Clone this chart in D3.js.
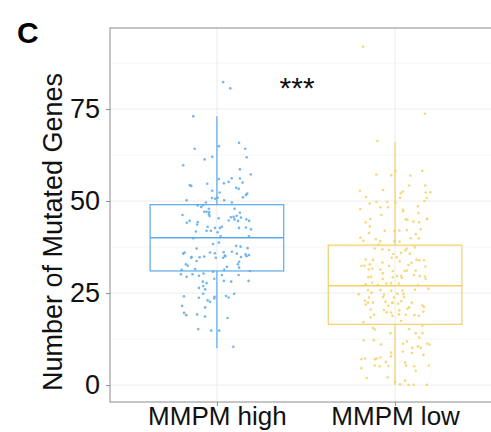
<!DOCTYPE html>
<html>
<head>
<meta charset="utf-8">
<script src="https://cdn.jsdelivr.net/npm/d3@7"></script>
<style>
  body { margin: 0; background: #fff; }
  text { font-family: "Liberation Sans", Arial, sans-serif; }
</style>
</head>
<body>
<div id="canvas"></div>
<script>
// groups and box statistics
const groups = ["MMPM high", "MMPM low"];
const groupColours = ["#5aa9ea", "#f5d163"];
const q1 = [31, 16.5];
const median = [40, 27];
const q3 = [49, 38];
const whiskerLow = [10, 0];
const whiskerHigh = [73, 66];

const yTicks = [0, 25, 50, 75];
const yMinor = [12.5, 37.5, 62.5, 87.5];

// jittered points: [offset from group centre, number of mutated genes]
const highPoints = [
  [0.035, 82.3], [0.075, 80.6], [-0.133, 73.0], [0.011, 64.9], [0.124, 65.8], [0.159, 64.2],
  [-0.125, 64.2], [0.167, 61.9], [-0.069, 61.3], [-0.026, 62.0], [-0.189, 59.7], [0.129, 58.6],
  [0.19, 57.2], [0.011, 56.0], [0.083, 56.2], [0.066, 55.2], [0.039, 54.8], [0.129, 56.1],
  [0.144, 55.0], [-0.054, 54.7], [-0.152, 54.3], [-0.144, 54.1], [0.108, 53.6], [0.122, 53.3],
  [-0.026, 52.8], [0.015, 52.3], [0.17, 52.0], [0.163, 51.6], [0.146, 51.0], [-0.028, 50.8],
  [0.004, 50.9], [-0.01, 50.6], [0.041, 50.2], [-0.17, 50.2], [-0.062, 49.6], [0.084, 49.6],
  [-0.077, 48.9], [-0.108, 48.8], [-0.088, 48.4], [-0.045, 47.9], [0.099, 47.9], [-0.071, 47.1],
  [-0.058, 47.1], [-0.043, 47.0], [0.129, 46.8], [0.111, 46.0], [-0.193, 46.2], [-0.045, 46.4],
  [-0.041, 45.9], [0.079, 45.6], [0.094, 45.7], [0.135, 45.5], [0.165, 45.0], [0.01, 45.3],
  [-0.153, 44.6], [-0.169, 44.1], [-0.107, 44.3], [0.099, 45.0], [0.066, 44.7], [0.181, 44.6],
  [0.118, 44.6], [-0.111, 43.6], [0.028, 43.0], [0.017, 42.7], [-0.011, 42.7], [-0.052, 43.0],
  [0.124, 42.7], [0.163, 42.8], [0.191, 42.3], [-0.118, 41.7], [-0.058, 41.9], [-0.034, 41.9],
  [0.004, 41.5], [-0.133, 39.9], [0.021, 40.4], [0.18, 40.4], [-0.022, 38.3], [0.011, 38.7],
  [-0.114, 37.1], [0.108, 37.8], [0.133, 37.6], [0.172, 37.2], [-0.181, 36.0], [-0.189, 35.7],
  [-0.142, 34.8], [-0.071, 34.9], [-0.039, 36.0], [-0.011, 35.8], [0.038, 36.1], [0.084, 36.2],
  [0.112, 35.7], [0.161, 35.5], [0.18, 35.3], [0.135, 34.8], [-0.097, 34.7], [0.045, 35.2],
  [-0.174, 32.8], [-0.144, 34.6], [-0.114, 33.7], [-0.006, 34.6], [0.035, 34.6], [0.047, 35.0],
  [0.125, 33.5], [0.167, 35.0], [-0.163, 32.4], [-0.122, 31.5], [-0.198, 31.3], [0.041, 31.3],
  [0.056, 32.1], [0.118, 32.8], [0.125, 31.9], [0.185, 31.0], [-0.202, 30.1], [-0.17, 29.4],
  [-0.137, 30.1], [-0.101, 29.7], [-0.075, 30.3], [-0.021, 30.8], [0.028, 29.9], [0.122, 29.9],
  [-0.015, 28.9], [-0.079, 28.1], [-0.058, 27.7], [0.039, 28.3], [0.08, 28.1], [0.178, 28.3],
  [-0.077, 26.9], [-0.101, 26.4], [-0.066, 26.0], [-0.077, 24.8], [0.097, 24.8], [-0.185, 24.1],
  [-0.101, 23.7], [-0.013, 24.0], [-0.015, 23.5], [0.051, 24.2], [0.066, 23.8], [-0.052, 23.0],
  [-0.039, 22.6], [-0.195, 21.5], [-0.066, 21.1], [-0.184, 19.6], [-0.172, 19.0], [-0.111, 19.2],
  [-0.067, 18.6], [0.06, 18.2], [-0.105, 15.2], [-0.032, 14.8], [0.013, 14.8], [0.092, 10.4]
];

const lowPoints = [
  [-0.18, 91.9], [0.167, 73.7], [-0.099, 66.3], [-0.105, 57.2], [-0.022, 57.0], [0.002, 58.2],
  [0.086, 56.9], [0.153, 58.2], [0.079, 54.2], [0.169, 54.2], [-0.197, 52.8], [-0.067, 53.0],
  [0.043, 52.6], [0.032, 52.1], [0.172, 52.3], [0.198, 52.4], [-0.163, 51.1], [0.028, 50.9],
  [0.178, 50.8], [0.165, 50.0], [-0.105, 49.8], [-0.045, 49.8], [0.002, 49.5], [-0.142, 49.3],
  [0.129, 48.6], [-0.195, 47.8], [-0.083, 48.3], [-0.039, 48.3], [0.045, 47.6], [0.045, 47.2],
  [0.131, 46.7], [-0.077, 46.2], [-0.139, 45.1], [0.06, 45.0], [0.178, 45.1], [-0.165, 44.2],
  [0.069, 44.9], [0.103, 44.4], [0.135, 44.2], [0.18, 45.1], [-0.142, 43.1], [-0.058, 41.9],
  [-0.004, 41.8], [0.024, 42.0], [0.066, 42.1], [0.144, 42.3], [-0.146, 41.3], [0.116, 41.0],
  [-0.195, 40.0], [-0.108, 39.6], [-0.178, 39.2], [-0.083, 39.1], [-0.004, 39.1], [0.088, 39.9],
  [0.133, 39.9], [0.026, 38.9], [-0.094, 38.2], [-0.114, 37.1], [-0.071, 36.9], [-0.034, 36.7],
  [0.066, 37.1], [0.111, 37.4], [0.058, 36.6], [-0.01, 35.6], [0.034, 35.9], [0.083, 35.7],
  [-0.019, 34.6], [0.01, 34.7], [-0.165, 34.1], [-0.124, 34.0], [0.12, 34.0], [0.135, 33.9],
  [0.163, 33.9], [-0.071, 33.3], [0.026, 33.6], [-0.189, 32.4], [-0.172, 32.4], [-0.142, 32.8],
  [-0.034, 32.4], [0.075, 32.6], [0.17, 32.2], [0.092, 33.2], [-0.148, 31.4], [-0.128, 31.6],
  [-0.083, 31.4], [0.054, 31.0], [0.066, 31.1], [-0.013, 31.0], [0.116, 31.1], [-0.069, 30.4],
  [0.011, 29.6], [0.034, 29.6], [0.139, 29.6], [0.167, 29.5], [0.105, 29.9], [-0.15, 29.3],
  [-0.135, 29.4], [-0.013, 29.3], [0.038, 29.1], [0.172, 28.9], [-0.069, 28.8], [-0.128, 27.8],
  [-0.165, 27.4], [-0.022, 27.7], [0.021, 27.6], [-0.049, 27.6], [-0.097, 27.2], [0.128, 27.1],
  [-0.152, 25.8], [-0.022, 25.6], [0.041, 25.7], [0.111, 25.9], [0.187, 26.2], [-0.083, 25.8],
  [-0.204, 24.7], [-0.133, 25.1], [0.013, 24.8], [0.047, 24.7], [-0.146, 23.8], [-0.062, 24.6],
  [-0.067, 23.9], [-0.006, 23.8], [0.051, 23.9], [-0.152, 22.4], [-0.124, 22.4], [-0.015, 22.4],
  [0.094, 22.4], [-0.054, 22.6], [-0.169, 22.9], [-0.165, 21.9], [-0.038, 21.5], [-0.015, 22.3],
  [0.017, 22.1], [0.034, 22.8], [0.069, 20.7], [0.079, 21.1], [0.153, 21.6], [0.163, 21.2],
  [-0.137, 20.5], [-0.063, 20.4], [-0.047, 19.8], [-0.022, 19.7], [0.024, 20.3], [-0.118, 19.1],
  [-0.015, 18.8], [0.022, 19.2], [0.06, 19.1], [0.108, 19.0], [0.133, 18.8], [0.159, 19.9],
  [-0.137, 18.4], [-0.178, 17.1], [0.034, 17.4], [0.153, 16.1], [-0.124, 15.5], [-0.114, 15.1],
  [-0.026, 14.1], [0.079, 15.2], [0.116, 14.1], [0.153, 14.1], [0.135, 12.9], [-0.176, 12.1],
  [-0.12, 12.2], [-0.08, 11.0], [0.045, 11.2], [0.066, 11.9], [0.181, 11.3], [0.193, 11.0],
  [0.128, 10.5], [0.144, 10.1], [0.096, 10.1], [0.043, 9.1], [0.159, 8.2], [-0.022, 8.8],
  [0.094, 8.7], [-0.189, 7.0], [-0.169, 7.2], [-0.114, 7.0], [-0.103, 7.2], [-0.083, 7.5],
  [-0.052, 6.3], [-0.024, 7.8], [0.056, 6.1], [0.062, 5.3], [-0.114, 5.3], [-0.086, 5.1],
  [-0.039, 5.2], [0.107, 5.1], [0.189, 5.3], [-0.189, 4.6], [0.116, 3.9], [-0.159, 1.9],
  [-0.041, 2.1], [0.056, 1.2], [0.028, 0.2], [0.077, 0.1], [0.105, 0.1], [0.178, 0.1], [0, 0.8]
];
const pointsByGroup = [highPoints, lowPoints];

// significance label: position in data units
const sigLabel = { x: 1.45, y: 78, text: "***" };

// canvas
const width = 491, height = 432;
const panel = { left: 110, right: 502, top: 28, bottom: 402 };

const svg = d3.select("#canvas")
  .append("svg")
  .attr("width", width)
  .attr("height", height);

// scales
const x = d3.scaleLinear()
  .domain([0.4, groups.length + 0.6])
  .range([panel.left, panel.right]);

const y = d3.scaleLinear()
  .domain([-4.6, 97])
  .range([panel.bottom, panel.top]);

// grid
svg.append("g")
  .selectAll("line")
  .data(yMinor)
  .join("line")
  .attr("x1", panel.left).attr("x2", panel.right)
  .attr("y1", d => y(d)).attr("y2", d => y(d))
  .attr("stroke", "#f5f5f5");

svg.append("g")
  .selectAll("line")
  .data(yTicks)
  .join("line")
  .attr("x1", panel.left).attr("x2", panel.right)
  .attr("y1", d => y(d)).attr("y2", d => y(d))
  .attr("stroke", "#ececec");

svg.append("g")
  .selectAll("line")
  .data(groups)
  .join("line")
  .attr("x1", (d, i) => x(i + 1)).attr("x2", (d, i) => x(i + 1))
  .attr("y1", panel.top).attr("y2", panel.bottom)
  .attr("stroke", "#ececec");

// boxes
const boxWidth = 0.75;
const box = svg.append("g")
  .selectAll("g")
  .data(groups)
  .join("g")
  .attr("stroke", (d, i) => groupColours[i])
  .attr("stroke-width", 1.2)
  .attr("fill", "none");

box.append("line")
  .attr("x1", (d, i) => x(i + 1)).attr("x2", (d, i) => x(i + 1))
  .attr("y1", (d, i) => y(whiskerHigh[i])).attr("y2", (d, i) => y(q3[i]));

box.append("line")
  .attr("x1", (d, i) => x(i + 1)).attr("x2", (d, i) => x(i + 1))
  .attr("y1", (d, i) => y(q1[i])).attr("y2", (d, i) => y(whiskerLow[i]));

box.append("rect")
  .attr("x", (d, i) => x(i + 1 - boxWidth / 2))
  .attr("width", x(1 + boxWidth / 2) - x(1 - boxWidth / 2))
  .attr("y", (d, i) => y(q3[i]))
  .attr("height", (d, i) => y(q1[i]) - y(q3[i]));

box.append("line")
  .attr("x1", (d, i) => x(i + 1 - boxWidth / 2)).attr("x2", (d, i) => x(i + 1 + boxWidth / 2))
  .attr("y1", (d, i) => y(median[i])).attr("y2", (d, i) => y(median[i]))
  .attr("stroke-width", 1.6);

// jittered points
pointsByGroup.forEach((pts, i) => {
  svg.append("g")
    .selectAll("circle")
    .data(pts)
    .join("circle")
    .attr("cx", d => x(i + 1 + d[0]))
    .attr("cy", d => y(d[1]))
    .attr("r", 1.3)
    .attr("fill", groupColours[i])
    .attr("opacity", 0.85);
});

// panel border
svg.append("rect")
  .attr("x", panel.left)
  .attr("y", panel.top)
  .attr("width", panel.right - panel.left)
  .attr("height", panel.bottom - panel.top)
  .attr("fill", "none")
  .attr("stroke", "#8c8c8c")
  .attr("stroke-width", 1);

// y axis
const yAxis = svg.append("g")
  .attr("transform", "translate(" + panel.left + ",0)")
  .call(d3.axisLeft(y).tickValues(yTicks).tickSize(4).tickPadding(6));
yAxis.select(".domain").remove();
yAxis.selectAll("line").attr("stroke", "#8c8c8c");
yAxis.selectAll("text")
  .attr("font-size", 27)
  .attr("font-family", "Liberation Sans, Arial, sans-serif")
  .attr("fill", "#111");

// x axis
const xAxis = svg.append("g")
  .attr("transform", "translate(0," + panel.bottom + ")")
  .call(d3.axisBottom(x).tickValues(groups.map((d, i) => i + 1))
    .tickFormat(d => groups[d - 1]).tickSize(4).tickPadding(1));
xAxis.select(".domain").remove();
xAxis.selectAll("line").attr("stroke", "#8c8c8c");
xAxis.selectAll("text")
  .attr("font-size", 26)
  .attr("font-family", "Liberation Sans, Arial, sans-serif")
  .attr("fill", "#111");

// axis title
svg.append("text")
  .attr("transform", "translate(62,232) rotate(-90)")
  .attr("text-anchor", "middle")
  .attr("font-size", 27)
  .attr("fill", "#111")
  .text("Number of Mutated Genes");

// significance stars
svg.append("text")
  .attr("x", x(sigLabel.x))
  .attr("y", y(sigLabel.y))
  .attr("text-anchor", "middle")
  .attr("font-size", 30)
  .attr("fill", "#111")
  .text(sigLabel.text);

// panel tag
svg.append("text")
  .attr("x", 17)
  .attr("y", 43)
  .attr("font-size", 30)
  .attr("font-weight", "bold")
  .attr("fill", "#000")
  .text("C");
</script>
</body>
</html>
